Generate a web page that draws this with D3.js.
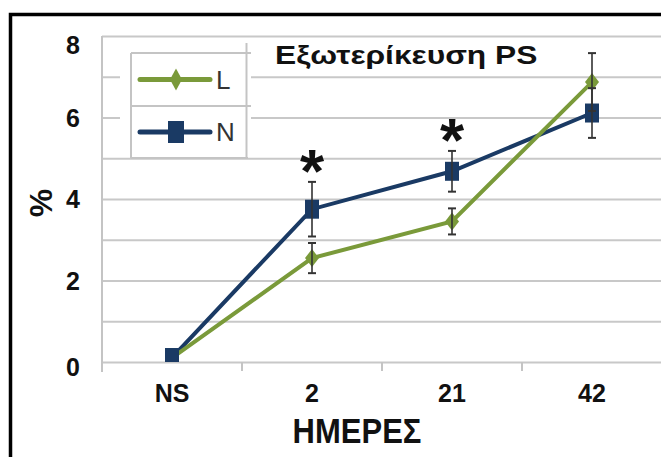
<!DOCTYPE html>
<html><head><meta charset="utf-8">
<script src="https://cdn.jsdelivr.net/npm/d3@7"></script>
<style>body{margin:0;background:#fff}svg{display:block}text{font-family:"Liberation Sans",Arial,sans-serif}</style>
</head><body><svg id="c" width="661" height="457"></svg>
<script>
const categories = ["NS", "2", "21", "42"];
const seriesNames = ["L", "N"];
const valuesL = [0.1, 2.55, 3.45, 6.87];
const errorsL = [0, 0.37, 0.32, 0.71];
const valuesN = [0.11, 3.75, 4.68, 6.11];
const errorsN = [0, 0.67, 0.5, 0.61];
const gridTicks = [0, 1, 2, 3, 4, 5, 6, 7, 8];
const labelTicks = [0, 2, 4, 6, 8];
const significant = ["2", "21"];
const title = "Εξωτερίκευση PS";
const xTitle = "ΗΜΕΡΕΣ";
const yTitle = "%";

(function () {
const colL = "#7a9a3a", colN = "#1a3a64";
const svg = d3.select("#c");
const pL = 102, pR = 662, pT = 36, pB = 362;
const x = d3.scaleBand().domain(categories).range([pL, pR]);
const y = d3.scaleLinear().domain([0, 8]).range([pB, pT]);
const cx = c => x(c) + x.bandwidth() / 2;

// gridlines
svg.append("g").attr("transform", `translate(${pL},0)`)
  .call(d3.axisLeft(y).tickValues(gridTicks).tickSize(-(pR - pL)).tickFormat(""))
  .call(g => g.select(".domain").remove())
  .call(g => g.selectAll("line").attr("stroke", "#c8c8c8").attr("stroke-width", 2));
// left axis line
svg.append("line").attr("x1", pL).attr("x2", pL).attr("y1", pT).attr("y2", pB + 10)
  .attr("stroke", "#c4c4c4").attr("stroke-width", 2);
// x axis ticks
svg.append("g").selectAll("line").data(categories.slice(1)).join("line")
  .attr("x1", d => x(d)).attr("x2", d => x(d)).attr("y1", pB).attr("y2", pB + 9)
  .attr("stroke", "#c4c4c4").attr("stroke-width", 2);
// x labels
svg.append("g").selectAll("text").data(categories).join("text")
  .attr("x", d => cx(d)).attr("y", 402).attr("text-anchor", "middle")
  .attr("font-size", 25).attr("font-weight", "bold").attr("fill", "#111").text(d => d);
// y labels
const yOff = {8: 9, 0: 5};
svg.append("g").selectAll("text").data(labelTicks).join("text")
  .attr("x", 80).attr("y", d => y(d) + (yOff[d] || 0)).attr("dy", "0.36em").attr("text-anchor", "end")
  .attr("font-size", 25).attr("font-weight", "bold").attr("fill", "#111").text(d => d);

// legend
const lg = svg.append("g");
lg.append("rect").attr("x", 120).attr("y", 43).attr("width", 131).attr("height", 114).attr("fill", "#fff");
const lgc = "#c4c4c4";
[[131, 53, 251, 53], [131, 106, 251, 106], [131, 158, 248, 158], [131, 53, 131, 158], [246.5, 43, 246.5, 158]]
  .forEach(l => lg.append("line").attr("x1", l[0]).attr("y1", l[1]).attr("x2", l[2]).attr("y2", l[3])
    .attr("stroke", lgc).attr("stroke-width", 2));
const legendRows = [{name: seriesNames[0], col: colL, shape: "d", cy: 79.5}, {name: seriesNames[1], col: colN, shape: "s", cy: 132}];
legendRows.forEach(r => {
  lg.append("line").attr("x1", 140).attr("x2", 210).attr("y1", r.cy).attr("y2", r.cy)
    .attr("stroke", r.col).attr("stroke-width", 5).attr("stroke-linecap", "round");
  if (r.shape === "d") lg.append("path").attr("d", `M176,${r.cy - 11}L182,${r.cy}L176,${r.cy + 11}L170,${r.cy}Z`).attr("fill", r.col);
  else lg.append("rect").attr("x", 168).attr("y", r.cy - 11).attr("width", 16).attr("height", 22).attr("fill", r.col);
  lg.append("text").attr("x", 216).attr("y", r.cy + 9).attr("font-size", 26).attr("fill", "#333").text(r.name);
});

// title
svg.append("text").attr("x", 0).attr("y", 0).attr("font-size", 25).attr("font-weight", "bold").attr("fill", "#111")
  .attr("transform", "translate(275,63.5) scale(1.27,1)").text(title);

// clip
svg.append("clipPath").attr("id", "pc").append("rect").attr("x", pL - 20).attr("y", 0).attr("width", 700).attr("height", pB);
const plot = svg.append("g").attr("clip-path", "url(#pc)");
const line = d3.line().x((d, i) => cx(categories[i])).y(d => y(d));
plot.append("path").datum(valuesN).attr("d", line).attr("fill", "none").attr("stroke", colN).attr("stroke-width", 4);
plot.append("path").datum(valuesL).attr("d", line).attr("fill", "none").attr("stroke", colL).attr("stroke-width", 4);
plot.selectAll(".dm").data(valuesL).join("path").attr("class", "dm")
  .attr("d", (d, i) => { const px = cx(categories[i]), py = y(d); return `M${px},${py - 9}L${px + 7},${py}L${px},${py + 9}L${px - 7},${py}Z`; })
  .attr("fill", colL);
plot.selectAll(".sq").data(valuesN).join("rect").attr("class", "sq")
  .attr("x", (d, i) => cx(categories[i]) - 7).attr("y", d => y(d) - 9.5).attr("width", 14).attr("height", 19)
  .attr("fill", colN);
// error bars
[[valuesL, errorsL], [valuesN, errorsN]].forEach(([v, e]) => {
  v.forEach((d, i) => {
    if (!e[i]) return;
    const px = cx(categories[i]), y1 = y(d + e[i]), y2 = y(d - e[i]);
    const g = plot.append("g").attr("stroke", "#333").attr("stroke-width", 1.6);
    g.append("line").attr("x1", px).attr("x2", px).attr("y1", y1).attr("y2", y2);
    g.append("line").attr("x1", px - 4).attr("x2", px + 4).attr("y1", y1).attr("y2", y1).attr("stroke-width", 2);
    g.append("line").attr("x1", px - 4).attr("x2", px + 4).attr("y1", y2).attr("y2", y2).attr("stroke-width", 2);
  });
});
// asterisks
svg.append("g").selectAll("text").data(significant).join("text")
  .attr("x", d => cx(d)).attr("y", d => { const i = categories.indexOf(d); return y(valuesN[i] + errorsN[i]) + 10; })
  .attr("text-anchor", "middle").attr("font-size", 62).attr("font-weight", "bold").attr("fill", "#111").text("*");

// axis titles
svg.append("text").attr("x", 0).attr("y", 0).attr("text-anchor", "middle").attr("font-size", 31)
  .attr("font-weight", "bold").attr("fill", "#111")
  .attr("transform", "translate(357,443) scale(1,1.12)").text(xTitle);
svg.append("text").attr("transform", "translate(52,203) rotate(-90)").attr("text-anchor", "middle")
  .attr("font-size", 32).attr("font-weight", "bold").attr("fill", "#111").text(yTitle);

// frame
svg.append("rect").attr("x", 10.5).attr("y", 14.5).attr("width", 700).attr("height", 500)
  .attr("fill", "none").attr("stroke", "#000").attr("stroke-width", 3.5);
})();
</script></body></html>
